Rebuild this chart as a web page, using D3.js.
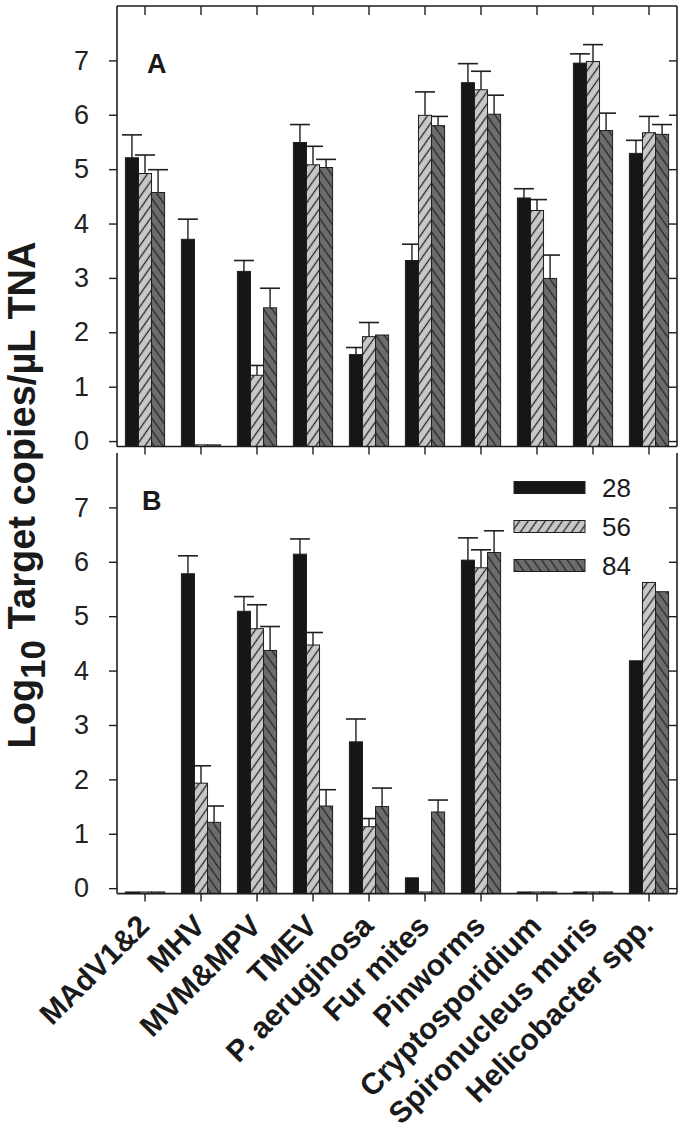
<!DOCTYPE html>
<html>
<head>
<meta charset="utf-8">
<script src="https://cdn.jsdelivr.net/npm/d3@7"></script>
<style>
  html, body { margin: 0; padding: 0; background: #fff; }
  svg { display: block; font-family: "Liberation Sans", Arial, sans-serif; }
</style>
</head>
<body>
<svg id="chart" width="683" height="1135"></svg>
<script>
// ---------------- DATA ----------------
const categories = ["MAdV1&2", "MHV", "MVM&MPV", "TMEV", "P. aeruginosa", "Fur mites",
                    "Pinworms", "Cryptosporidium", "Spironucleus muris", "Helicobacter spp."];
const seriesNames = ["28", "56", "84"];
const yTicks = [0, 1, 2, 3, 4, 5, 6, 7];

// Panel A: means and upper error (SE)
const a28 = [5.21, 3.71, 3.12, 5.49, 1.59, 3.32, 6.59, 4.47, 6.95, 5.29];
const a28Err = [0.42, 0.37, 0.20, 0.33, 0.13, 0.30, 0.35, 0.17, 0.17, 0.24];
const a56 = [4.92, -0.07, 1.21, 5.08, 1.92, 5.99, 6.46, 4.24, 6.98, 5.67];
const a56Err = [0.34, 0, 0.18, 0.34, 0.26, 0.43, 0.34, 0.20, 0.31, 0.30];
const a84 = [4.57, -0.07, 2.45, 5.03, 1.95, 5.80, 6.01, 2.99, 5.71, 5.64];
const a84Err = [0.42, 0, 0.36, 0.15, 0, 0.17, 0.35, 0.43, 0.32, 0.18];

// Panel B: means and upper error (SE)
const b28 = [-0.07, 5.78, 5.09, 6.14, 2.69, 0.19, 6.03, -0.07, -0.07, 4.18];
const b28Err = [0, 0.33, 0.27, 0.28, 0.42, 0, 0.41, 0, 0, 0];
const b56 = [-0.07, 1.93, 4.77, 4.47, 1.13, -0.07, 5.89, -0.07, -0.07, 5.62];
const b56Err = [0, 0.32, 0.44, 0.23, 0.15, 0, 0.33, 0, 0, 0];
const b84 = [-0.07, 1.21, 4.37, 1.51, 1.50, 1.40, 6.17, -0.07, -0.07, 5.45];
const b84Err = [0, 0.30, 0.44, 0.30, 0.34, 0.22, 0.40, 0, 0, 0];

// ---------------- LAYOUT ----------------
const svg = d3.select("#chart");
const xL = 117, xR = 677;
const panels = [
  { label: "A", labelPos: [147, 73], top: 6, bottom: 446.5, series: [[a28, a28Err], [a56, a56Err], [a84, a84Err]], topFrame: true },
  { label: "B", labelPos: [142, 510], top: 453, bottom: 893.6, series: [[b28, b28Err], [b56, b56Err], [b84, b84Err]], topFrame: false }
];
const ink = "#1e1e1e";

const defs = svg.append("defs");
function hatch(id, fill, angle) {
  const p = defs.append("pattern").attr("id", id).attr("patternUnits", "userSpaceOnUse")
    .attr("width", 7).attr("height", 7).attr("patternTransform", `rotate(${angle})`);
  p.append("rect").attr("width", 7).attr("height", 7).attr("fill", fill);
  p.append("line").attr("x1", 3.5).attr("x2", 3.5).attr("y1", -1).attr("y2", 8)
    .attr("stroke", "#262626").attr("stroke-width", 1.3);
}
hatch("h56", "#c8c8c8", 35);
hatch("h84", "#6c6c6c", -35);
const fills = ["#161616", "url(#h56)", "url(#h84)"];

const x0 = d3.scaleBand().domain(categories).range([xL, xR]).paddingInner(0.3).paddingOuter(0.15);
const x1 = d3.scaleBand().domain(seriesNames).range([0, x0.bandwidth()]).padding(0);

panels.forEach(p => {
  const y = d3.scaleLinear().domain([-0.1, 8]).range([p.bottom, p.top]);
  const g = svg.append("g");

  // error bars (upper whisker only)
  p.series.forEach((s, si) => {
    const [vals, errs] = s;
    const gg = g.append("g");
    categories.forEach((c, i) => {
      if (errs[i] > 0) {
        const cx = x0(c) + x1(seriesNames[si]) + x1.bandwidth() / 2;
        gg.append("line").attr("x1", cx).attr("x2", cx)
          .attr("y1", y(vals[i])).attr("y2", y(vals[i] + errs[i]))
          .attr("stroke", ink).attr("stroke-width", 1.4);
        gg.append("line").attr("x1", cx - 10).attr("x2", cx + 10)
          .attr("y1", y(vals[i] + errs[i])).attr("y2", y(vals[i] + errs[i]))
          .attr("stroke", ink).attr("stroke-width", 1.6);
      }
    });
  });
  // bars
  p.series.forEach((s, si) => {
    const [vals] = s;
    g.append("g").selectAll("rect").data(categories).join("rect")
      .attr("x", c => x0(c) + x1(seriesNames[si]))
      .attr("width", x1.bandwidth())
      .attr("y", (c, i) => y(vals[i]))
      .attr("height", (c, i) => y(-0.1) - y(vals[i]))
      .attr("fill", fills[si])
      .attr("stroke", ink).attr("stroke-width", 1);
  });

  const yl = g.append("g").attr("transform", `translate(${xL},0)`)
    .call(d3.axisLeft(y).tickValues(yTicks).tickSize(8).tickPadding(20).tickFormat(d3.format("d")));
  yl.select(".domain").remove();
  yl.selectAll("line").attr("stroke", ink).attr("stroke-width", 1.4);
  yl.selectAll("text").attr("font-size", 27).attr("fill", "#222").style("font-family", "'Liberation Sans', Arial, sans-serif");
  const yr = g.append("g").attr("transform", `translate(${xR},0)`)
    .call(d3.axisLeft(y).tickValues(yTicks).tickSize(8).tickFormat(""));
  yr.select(".domain").remove();
  yr.selectAll("line").attr("stroke", ink).attr("stroke-width", 1.4);
  const xb = g.append("g").attr("transform", `translate(0,${p.bottom})`)
    .call(d3.axisBottom(x0).tickSize(8).tickFormat(""));
  xb.select(".domain").remove();
  xb.selectAll("line").attr("stroke", ink).attr("stroke-width", 1.4);
  if (p.topFrame) {
    const xt = g.append("g").attr("transform", `translate(0,${p.top})`)
      .call(d3.axisBottom(x0).tickSize(9).tickFormat(""));
    xt.select(".domain").remove();
    xt.selectAll("line").attr("stroke", ink).attr("stroke-width", 1.4);
  }

  const fr = g.append("g").attr("fill", "none").attr("stroke", ink).attr("stroke-width", 1.6);
  fr.append("line").attr("x1", xL).attr("x2", xL).attr("y1", p.top).attr("y2", p.bottom);
  fr.append("line").attr("x1", xR).attr("x2", xR).attr("y1", p.top).attr("y2", p.bottom);
  fr.append("line").attr("x1", xL).attr("x2", xR).attr("y1", p.bottom).attr("y2", p.bottom);
  if (p.topFrame) fr.append("line").attr("x1", xL).attr("x2", xR).attr("y1", p.top).attr("y2", p.top);

  g.append("text").attr("x", p.labelPos[0]).attr("y", p.labelPos[1])
    .attr("font-size", 27).attr("font-weight", "bold").attr("fill", "#1a1a1a").text(p.label);
});

// legend (panel B)
const legY = d3.scaleBand().domain(seriesNames).range([468, 585]);
const leg = svg.append("g");
seriesNames.forEach((s, i) => {
  const yy = legY(s) + legY.bandwidth() / 2;
  leg.append("rect").attr("x", 514).attr("y", yy - 6).attr("width", 71).attr("height", 12)
    .attr("fill", fills[i]).attr("stroke", ink).attr("stroke-width", 1);
  leg.append("text").attr("x", 602).attr("y", yy + 9).attr("font-size", 26).attr("fill", "#1a1a1a").text(s);
});

// category labels
const bottomB = panels[1].bottom;
svg.append("g").selectAll("text").data(categories).join("text")
  .attr("transform", c => `translate(${x0(c) + x0.bandwidth() / 2 + 6},${bottomB + 34}) rotate(-45)`)
  .attr("text-anchor", "end")
  .attr("font-size", 30).attr("font-weight", "bold").attr("fill", "#1a1a1a")
  .text(c => c);

// y label
const ylab = svg.append("text").attr("transform", "translate(35,495) rotate(-90)")
  .attr("text-anchor", "middle").attr("font-weight", "bold").attr("fill", "#1a1a1a").attr("font-size", 38);
ylab.append("tspan").text("Log");
ylab.append("tspan").attr("font-size", 35).attr("dy", 10).text("10");
ylab.append("tspan").attr("dy", -10).text(" Target copies/\u00B5L TNA");
</script>
</body>
</html>
